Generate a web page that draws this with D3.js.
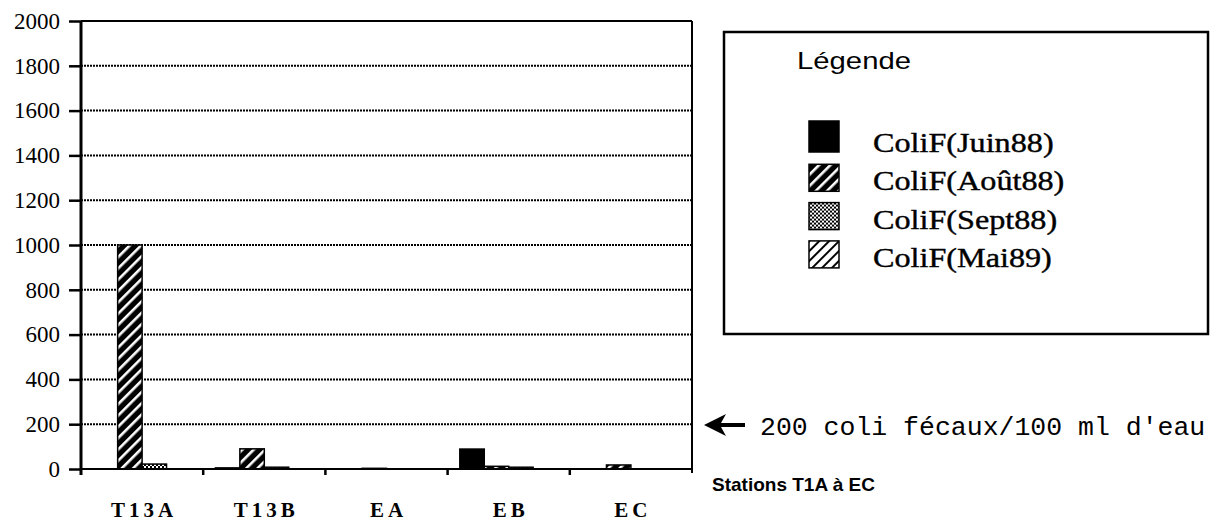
<!DOCTYPE html>
<html lang="fr">
<head>
<meta charset="UTF-8">
<title>Coliformes fécaux - stations T1A à EC</title>
<script src="https://cdn.jsdelivr.net/npm/d3@7/dist/d3.min.js"></script>
<style>
	body { margin: 0; background: #fff; }
	.xlab { font-family: "Liberation Serif", "Times New Roman", serif; font-size: 21px; font-weight: bold; letter-spacing: 4px; }
	.ylab { font-family: "Liberation Serif", "Times New Roman", serif; font-size: 23px; }
</style>
</head>
<body>
<div id="container"></div>
<script>
	// data
	var stations = ["T13A", "T13B", "EA", "EB", "EC"];
	var series = ["ColiF(Juin88)", "ColiF(Août88)", "ColiF(Sept88)", "ColiF(Mai89)"];
	var juin88 = [0, 5, 0, 89, 0];
	var aout88 = [1000, 90, 3, 12, 18];
	var sept88 = [22, 8, 0, 8, 0];
	var mai89  = [0, 0, 0, 0, 0];
	var yTicks = [0, 200, 400, 600, 800, 1000, 1200, 1400, 1600, 1800, 2000];
	var values = [juin88, aout88, sept88, mai89];

	var width = 1218, height = 522;
	var plot = { left: 81, right: 692, top: 21, bottom: 469 };

	var svg = d3.select("#container").append("svg")
		.attr("width", width)
		.attr("height", height);

	// patterns
	var defs = svg.append("defs");
	var pAout = defs.append("pattern").attr("id", "p-aout")
		.attr("patternUnits", "userSpaceOnUse").attr("width", 8).attr("height", 8)
		.attr("patternTransform", "rotate(45)");
	pAout.append("rect").attr("width", 8).attr("height", 8).attr("fill", "#000");
	pAout.append("rect").attr("x", 0).attr("width", 2.6).attr("height", 8).attr("fill", "#fff");

	var pMai = defs.append("pattern").attr("id", "p-mai")
		.attr("patternUnits", "userSpaceOnUse").attr("width", 7).attr("height", 7)
		.attr("patternTransform", "rotate(45)");
	pMai.append("rect").attr("width", 7).attr("height", 7).attr("fill", "#fff");
	pMai.append("rect").attr("x", 0).attr("width", 2).attr("height", 7).attr("fill", "#000");

	var pSept = defs.append("pattern").attr("id", "p-sept")
		.attr("patternUnits", "userSpaceOnUse").attr("width", 4).attr("height", 4);
	pSept.append("rect").attr("width", 4).attr("height", 4).attr("fill", "#fff");
	pSept.append("rect").attr("width", 2).attr("height", 2).attr("fill", "#000");
	pSept.append("rect").attr("x", 2).attr("y", 2).attr("width", 2).attr("height", 2).attr("fill", "#000");

	var fills = ["#000", "url(#p-aout)", "url(#p-sept)", "url(#p-mai)"];

	var x0 = d3.scaleBand().domain(stations).range([plot.left, plot.right]);
	var x1 = d3.scaleBand().domain(series).range([0, x0.bandwidth()]).paddingOuter(0.5);
	var y = d3.scaleLinear().domain([0, 2000]).range([plot.bottom, plot.top]);

	// grid lines (dotted, like the scan)
	svg.append("g").selectAll("line")
		.data(yTicks.filter(function(d) { return d > 0 && d < 2000; }))
		.enter().append("line")
			.attr("x1", plot.left).attr("x2", plot.right)
			.attr("y1", function(d) { return y(d); })
			.attr("y2", function(d) { return y(d); })
			.attr("stroke", "#000")
			.attr("stroke-width", 2)
			.attr("stroke-dasharray", "2,1");

	// frame top & right
	svg.append("line").attr("x1", plot.left).attr("x2", plot.right)
		.attr("y1", y(2000)).attr("y2", y(2000))
		.attr("stroke", "#000").attr("stroke-width", 2);
	svg.append("line").attr("x1", plot.right).attr("x2", plot.right)
		.attr("y1", y(2000)).attr("y2", y(0) + 4)
		.attr("stroke", "#000").attr("stroke-width", 2);

	// bars
	var groups = svg.append("g").selectAll("g")
		.data(series)
		.enter().append("g")
			.attr("fill", function(d, i) { return fills[i]; });

	groups.selectAll("rect")
		.data(function(s, i) {
			return stations.map(function(st, j) { return { station: st, serie: s, value: values[i][j] }; })
				.filter(function(d) { return d.value > 0; });
		})
		.enter().append("rect")
			.attr("x", function(d) { return x0(d.station) + x1(d.serie); })
			.attr("width", x1.bandwidth())
			.attr("y", function(d) { return y(d.value); })
			.attr("height", function(d) { return y(0) - y(d.value); })
			.attr("stroke", "#000")
			.attr("stroke-width", 1.5);

	// y axis
	var yAxis = svg.append("g")
		.attr("transform", "translate(" + plot.left + ",0)")
		.call(d3.axisLeft(y).tickValues(yTicks).tickSize(12).tickPadding(9).tickFormat(d3.format("d")));
	yAxis.select(".domain").remove();
	yAxis.selectAll(".tick text")
		.attr("class", "ylab")
		.attr("font-family", "Liberation Serif")
		.attr("font-size", 23)
		.attr("fill", "#000");
	yAxis.selectAll(".tick line").attr("stroke", "#000").attr("stroke-width", 2.5);
	svg.append("line").attr("x1", plot.left).attr("x2", plot.left)
		.attr("y1", y(2000)).attr("y2", y(0) + 6)
		.attr("stroke", "#000").attr("stroke-width", 3);

	// x axis
	svg.append("line").attr("x1", plot.left).attr("x2", plot.right)
		.attr("y1", y(0)).attr("y2", y(0))
		.attr("stroke", "#000").attr("stroke-width", 2);
	svg.append("g").selectAll("line")
		.data(stations.slice(1))
		.enter().append("line")
			.attr("x1", function(d) { return x0(d); })
			.attr("x2", function(d) { return x0(d); })
			.attr("y1", y(0)).attr("y2", y(0) + 6)
			.attr("stroke", "#000").attr("stroke-width", 2.5);
	svg.append("g").selectAll("text")
		.data(stations)
		.enter().append("text")
			.attr("class", "xlab")
			.attr("x", function(d) { return x0(d) + x0.bandwidth() / 2 + 2; })
			.attr("y", 517)
			.attr("text-anchor", "middle")
			.text(function(d) { return d; });

	// legend
	var leg = svg.append("g");
	leg.append("rect")
		.attr("x", 724).attr("y", 32).attr("width", 484).attr("height", 302)
		.attr("fill", "none").attr("stroke", "#000").attr("stroke-width", 2.5);
	leg.append("text")
		.attr("x", 797).attr("y", 69)
		.attr("font-family", "Liberation Sans, Arial, sans-serif")
		.attr("font-size", 24)
		.attr("textLength", 114)
		.attr("lengthAdjust", "spacingAndGlyphs")
		.text("Légende");
	var rows = leg.selectAll("g.row")
		.data(series)
		.enter().append("g")
			.attr("transform", function(d, i) { return "translate(0," + (152 + i * 38.3) + ")"; });
	rows.append("rect")
		.attr("x", 809)
		.attr("y", function(d, i) { return i === 0 ? -31 : -26; })
		.attr("width", 30)
		.attr("height", function(d, i) { return i === 0 ? 31 : 27; })
		.attr("fill", function(d, i) { return fills[i]; })
		.attr("stroke", "#000").attr("stroke-width", 1.5);
	rows.append("text")
		.attr("x", 873).attr("y", 0)
		.attr("font-family", "Liberation Serif, Times New Roman, serif")
		.attr("font-size", 28)
		.attr("stroke", "#000").attr("stroke-width", 0.4)
		.attr("transform", "translate(873,0) scale(1.15,1) translate(-873,0)")
		.text(function(d) { return d; });

	// annotation
	svg.append("path")
		.attr("d", "M704,425 L726,414 L721,423 L745,423 L745,427 L721,427 L726,436 Z")
		.attr("fill", "#000");
	svg.append("text")
		.attr("x", 760).attr("y", 435)
		.attr("font-family", "Liberation Mono, Courier New, monospace")
		.attr("font-size", 26.5)
		.text("200 coli fécaux/100 ml d'eau");

	svg.append("text")
		.attr("x", 712).attr("y", 491)
		.attr("font-family", "Liberation Sans, Arial, sans-serif")
		.attr("font-size", 19)
		.attr("font-weight", "bold")
		.text("Stations T1A à EC");
</script>
</body>
</html>
